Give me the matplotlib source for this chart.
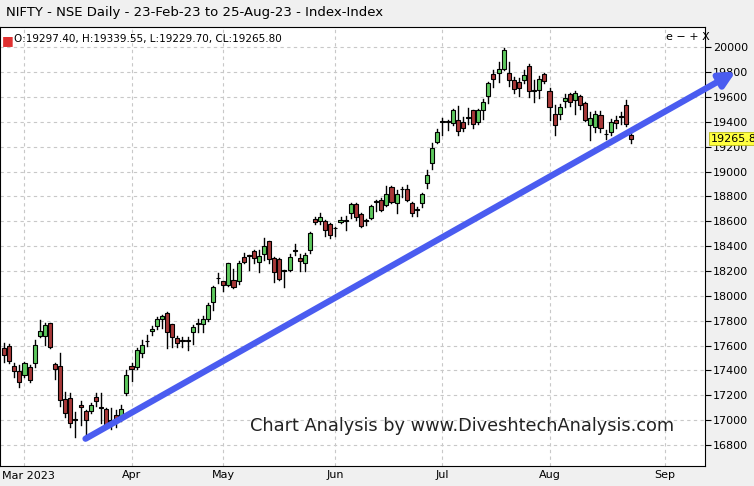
import matplotlib.pyplot as plt
from matplotlib.patches import Rectangle

# daily OHLC, NIFTY 23-Feb-23 .. 25-Aug-23
opens = [17578, 17596, 17436, 17398, 17363, 17425, 17457, 17677, 17677, 17779,
         17452, 17436, 17170, 17176, 17012, 17119, 17076, 17074, 17184, 17106,
         17087, 17001, 17039, 17023, 17216, 17435, 17430, 17537, 17639, 17719,
         17757, 17810, 17864, 17770, 17658, 17639, 17639, 17711, 17773, 17773,
         17810, 17952, 18140, 18116, 18086, 18127, 18121, 18309, 18320, 18362,
         18274, 18336, 18440, 18301, 18293, 18202, 18207, 18362, 18301, 18266,
         18373, 18622, 18604, 18604, 18582, 18542, 18595, 18604, 18663, 18738,
         18657, 18604, 18630, 18756, 18775, 18730, 18872, 18748, 18856, 18856,
         18748, 18689, 18748, 18904, 19070, 19239, 19399, 19399, 19391, 19418,
         19399, 19434, 19493, 19399, 19493, 19606, 19783, 19793, 19828, 19793,
         19740, 19721, 19734, 19847, 19649, 19659, 19783, 19649, 19461, 19461,
         19568, 19622, 19574, 19606, 19552, 19373, 19359, 19453, 19300, 19319,
         19413, 19440, 19533, 19297.40]
highs = [17623, 17612, 17457, 17444, 17470, 17444, 17645, 17805, 17779, 17784,
         17457, 17537, 17229, 17216, 17068, 17157, 17082, 17135, 17216, 17216,
         17095, 17095, 17082, 17122, 17403, 17457, 17577, 17644, 17684, 17757,
         17832, 17845, 17872, 17773, 17676, 17671, 17671, 17765, 17810, 17837,
         17944, 18078, 18180, 18121, 18266, 18220, 18282, 18346, 18328, 18373,
         18368, 18462, 18443, 18309, 18301, 18212, 18336, 18421, 18336, 18341,
         18515, 18636, 18668, 18614, 18588, 18555, 18636, 18641, 18748, 18748,
         18668, 18622, 18730, 18775, 18791, 18882, 18882, 18850, 18872, 18890,
         18756, 18711, 18829, 19011, 19231, 19346, 19434, 19418, 19507, 19525,
         19440, 19515, 19499, 19507, 19587, 19721, 19815, 19882, 19997, 19882,
         19761, 19756, 19820, 19863, 19740, 19767, 19793, 19676, 19533, 19541,
         19622, 19633, 19649, 19614, 19560, 19480, 19488, 19488, 19332, 19426,
         19445, 19480, 19579, 19339.55]
lows = [17470, 17457, 17350, 17264, 17350, 17310, 17430, 17671, 17604, 17578,
        17328, 17114, 17028, 16948, 16867, 16961, 16867, 17060, 17114, 16975,
        16934, 16926, 16948, 16996, 17202, 17317, 17408, 17510, 17596, 17684,
        17730, 17738, 17577, 17585, 17585, 17585, 17564, 17612, 17711, 17711,
        17800, 17885, 18105, 18041, 18078, 18060, 18094, 18261, 18212, 18261,
        18194, 18287, 18261, 18113, 18127, 18068, 18202, 18328, 18202, 18202,
        18341, 18577, 18577, 18480, 18462, 18480, 18588, 18529, 18630, 18614,
        18555, 18569, 18622, 18684, 18684, 18722, 18748, 18663, 18797, 18764,
        18641, 18641, 18711, 18864, 19024, 19231, 19292, 19332, 19373, 19292,
        19327, 19386, 19354, 19386, 19426, 19552, 19681, 19721, 19820, 19686,
        19633, 19606, 19713, 19600, 19560, 19595, 19713, 19413, 19292, 19426,
        19520, 19525, 19461, 19507, 19407, 19252, 19319, 19319, 19265, 19292,
        19354, 19386, 19365, 19229.70]
closes = [17524, 17476, 17398, 17310, 17457, 17323, 17604, 17717, 17765, 17591,
          17414, 17162, 17055, 16980, 17001, 17109, 17001, 17122, 17157, 17095,
          16948, 16991, 16988, 17087, 17363, 17408, 17564, 17604, 17634, 17735,
          17818, 17837, 17711, 17666, 17623, 17636, 17636, 17746, 17773, 17818,
          17923, 18068, 18140, 18089, 18261, 18073, 18266, 18271, 18320, 18301,
          18320, 18400, 18293, 18194, 18132, 18202, 18314, 18362, 18282, 18328,
          18507, 18595, 18636, 18529, 18488, 18542, 18614, 18604, 18738, 18636,
          18561, 18604, 18722, 18756, 18689, 18823, 18756, 18818, 18856, 18775,
          18663, 18689, 18818, 18971, 19193, 19319, 19399, 19399, 19493, 19327,
          19354, 19434, 19381, 19493, 19560, 19713, 19748, 19828, 19976, 19740,
          19667, 19675, 19775, 19649, 19649, 19748, 19729, 19520, 19373, 19520,
          19595, 19560, 19633, 19533, 19418, 19434, 19461, 19354, 19300, 19399,
          19391, 19440, 19386, 19265.80]

month_labels = ["Mar 2023", "Apr", "May", "Jun", "Jul", "Aug", "Sep"]
month_idx = [4, 25, 43, 65, 86, 107, 129.6]
price_ticks = list(range(16800, 20001, 200))

trend_start = (15.5, 16840)
trend_end = (144, 19815)

fig = plt.figure(figsize=(7.54, 4.86), dpi=100)
fig.patch.set_facecolor("#f0f0f0")
ax = fig.add_axes([0.0, 0.041, 0.935, 0.903])
ax.set_facecolor("white")

for i, (o, h, l, c) in enumerate(zip(opens, highs, lows, closes)):
    col = "#5ec95e" if c >= o else "#a83838"
    ax.plot([i, i], [l, h], color="black", lw=1, zorder=2)
    body = max(abs(c - o), 6)
    ax.add_patch(Rectangle((i - 0.4, min(o, c)), 0.8, body, facecolor=col,
                           edgecolor="black", lw=0.8, zorder=3))

ax.set_xlim(-0.8, 137.5)
ax.set_ylim(16631, 20161)
ax.yaxis.tick_right()
ax.set_yticks(price_ticks)
ax.set_yticklabels([str(p) for p in price_ticks], fontsize=8)
ax.set_xticks(month_idx)
ax.set_xticklabels([""] + month_labels[1:], fontsize=8)
ax.tick_params(axis="x", length=0, pad=3)
ax.tick_params(axis="y", length=4, pad=2)
ax.grid(True, color="#c8c8c8", ls=(0, (3, 3)), lw=0.8)
ax.text(0.003, -0.012, month_labels[0], transform=ax.transAxes, fontsize=8,
        va="top", ha="left", clip_on=False)
for s in ["top", "right", "left", "bottom"]:
    ax.spines[s].set_color("black")

ax.annotate("", xy=trend_end, xytext=trend_start, annotation_clip=False,
            arrowprops=dict(arrowstyle="-|>,head_length=0.9,head_width=0.45",
                            color="#4a5cf0", lw=4.5), zorder=5)

ax.text(0.003, 0.985, "\u25a0", transform=ax.transAxes, color="#e03030",
        fontsize=9, va="top")
ax.text(0.02, 0.985, "O:19297.40, H:19339.55, L:19229.70, CL:19265.80",
        transform=ax.transAxes, fontsize=7.5, va="top")
ax.text(0.945, 0.99, "e \u2212 + X", transform=ax.transAxes, fontsize=8, va="top")
ax.text(0.355, 0.08, "Chart Analysis by www.DiveshtechAnalysis.com",
        transform=ax.transAxes, fontsize=12.8, color="#222222")

ax.text(1.008, closes[-1], f"{closes[-1]:.1f}", transform=ax.get_yaxis_transform(),
        fontsize=8, va="center", ha="left", clip_on=False,
        bbox=dict(boxstyle="square,pad=0.15", fc="#ffff40", ec="#b0b000", lw=0.5))

fig.text(0.008, 0.975, "NIFTY - NSE Daily - 23-Feb-23 to 25-Aug-23 - Index-Index",
         fontsize=9.5, va="center", ha="left")

fig.savefig("out.png", dpi=100)
